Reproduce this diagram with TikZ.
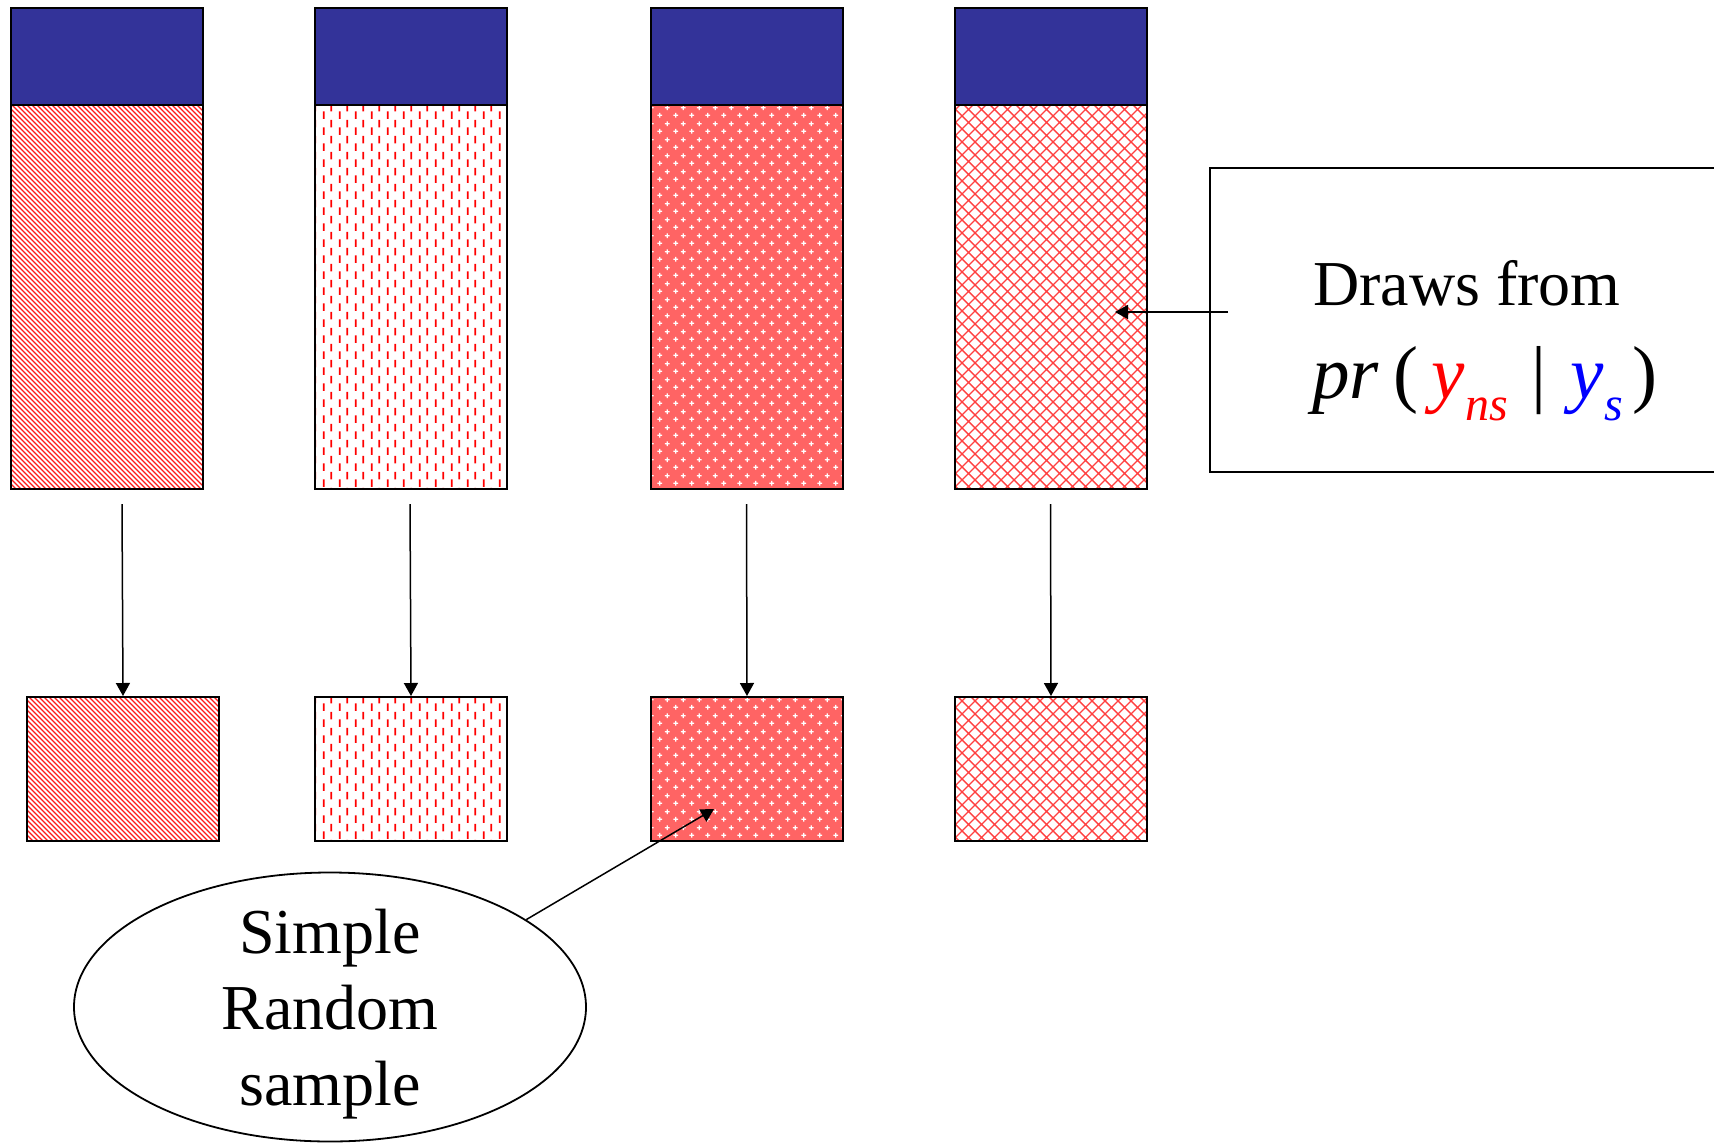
\documentclass[tikz,border=0pt]{standalone}
\usepackage{fontspec}
\setmainfont{Liberation Serif}
\usetikzlibrary{shapes.geometric,patterns,arrows.meta}
\definecolor{hdrblue}{RGB}{51,51,153}
\definecolor{pinkred}{RGB}{255,100,100}

\pgfdeclarepatternformonly{diagnw}{\pgfqpoint{-1pt}{-1pt}}{\pgfqpoint{6pt}{6pt}}{\pgfqpoint{5pt}{5pt}}{%
  \pgfsetlinewidth{1.1pt}%
  \pgfpathmoveto{\pgfqpoint{-0.1pt}{5.1pt}}%
  \pgfpathlineto{\pgfqpoint{5.1pt}{-0.1pt}}%
  \pgfusepath{stroke}}

\pgfdeclarepatternformonly{vdashes}{\pgfqpoint{0pt}{0pt}}{\pgfqpoint{16pt}{16pt}}{\pgfqpoint{16pt}{16pt}}{%
  \pgfsetlinewidth{1.8pt}%
  \pgfpathmoveto{\pgfqpoint{4pt}{0pt}}\pgfpathlineto{\pgfqpoint{4pt}{8pt}}%
  \pgfpathmoveto{\pgfqpoint{12pt}{8pt}}\pgfpathlineto{\pgfqpoint{12pt}{16pt}}%
  \pgfusepath{stroke}}

\pgfdeclarepatternformonly{wcross}{\pgfqpoint{0pt}{0pt}}{\pgfqpoint{16pt}{16pt}}{\pgfqpoint{16pt}{16pt}}{%
  \pgfsetlinewidth{1.3pt}%
  \pgfpathmoveto{\pgfqpoint{1.5pt}{4pt}}\pgfpathlineto{\pgfqpoint{6.5pt}{4pt}}%
  \pgfpathmoveto{\pgfqpoint{4pt}{1.5pt}}\pgfpathlineto{\pgfqpoint{4pt}{6.5pt}}%
  \pgfpathmoveto{\pgfqpoint{9.5pt}{12pt}}\pgfpathlineto{\pgfqpoint{14.5pt}{12pt}}%
  \pgfpathmoveto{\pgfqpoint{12pt}{9.5pt}}\pgfpathlineto{\pgfqpoint{12pt}{14.5pt}}%
  \pgfusepath{stroke}}

\pgfdeclarepatternformonly{xhatch}{\pgfqpoint{-1pt}{-1pt}}{\pgfqpoint{14pt}{14pt}}{\pgfqpoint{13pt}{13pt}}{%
  \pgfsetlinewidth{1.4pt}%
  \pgfpathmoveto{\pgfqpoint{-0.1pt}{-0.1pt}}\pgfpathlineto{\pgfqpoint{13.1pt}{13.1pt}}%
  \pgfpathmoveto{\pgfqpoint{-0.1pt}{13.1pt}}\pgfpathlineto{\pgfqpoint{13.1pt}{-0.1pt}}%
  \pgfusepath{stroke}}

\begin{document}
\begin{tikzpicture}[x=1pt,y=-1pt,
  hdr/.style={draw, line width=2pt, fill=hdrblue, minimum width=192pt, minimum height=97pt, inner sep=0pt, anchor=north west},
  bodybox/.style={draw, line width=2pt, minimum width=192pt, minimum height=384pt, inner sep=0pt, anchor=north west},
  smallbox/.style={draw, line width=2pt, minimum width=192pt, minimum height=144pt, inner sep=0pt, anchor=north west},
  patA/.style={pattern=diagnw, pattern color=red!90},
  patB/.style={pattern=vdashes, pattern color=red},
  patC/.style={preaction={fill=pinkred}, pattern=wcross, pattern color=white},
  patD/.style={pattern=xhatch, pattern color=red!75},
  conn/.style={line width=1.5pt, -{Triangle[length=13pt,width=14pt]}},
  bigtext/.style={font=\fontsize{64}{76}\selectfont}
]
\useasboundingbox (0,0) rectangle (1714,1143);

% top blue headers
\node[hdr] (h1) at (10,7) {};
\node[hdr] (h2) at (314,7) {};
\node[hdr] (h3) at (650,7) {};
\node[hdr] (h4) at (954,7) {};

% population bodies
\node[bodybox, patA] (b1) at (10,104) {};
\node[bodybox, patB] (b2) at (314,104) {};
\node[bodybox, patC] (b3) at (650,104) {};
\node[bodybox, patD] (b4) at (954,104) {};

% samples
\node[smallbox, patA] (s1) at (26,696) {};
\node[smallbox, patB] (s2) at (314,696) {};
\node[smallbox, patC] (s3) at (650,696) {};
\node[smallbox, patD] (s4) at (954,696) {};

% vertical arrows
\coordinate (a1) at (122,504);
\coordinate (a2) at (410,504);
\coordinate (a3) at (746.5,504);
\coordinate (a4) at (1050.5,504);
\draw[conn] (a1) -- (s1.north);
\draw[conn] (a2) -- (s2.north);
\draw[conn] (a3) -- (s3.north);
\draw[conn] (a4) -- (s4.north);

% right callout box
\draw[line width=2pt] (1714,168) -- (1210,168) -- (1210,472) -- (1714,472);
\node[bigtext, anchor=base west, inner sep=0pt] (drawsfrom) at (1313,305) {Draws from};
\node[font=\fontsize{75}{80}\selectfont, anchor=base west, inner sep=0pt] (formula) at (1312,398)
  {\itshape pr\hspace{15pt}\upshape(\hspace{13pt}{\color{red}\itshape y\raisebox{-22pt}{\fontsize{48}{48}\selectfont ns}}\hspace{24pt}|\hspace{24pt}{\color{blue}\itshape y\raisebox{-22pt}{\fontsize{48}{48}\selectfont s}}\hspace{10pt})};
\coordinate (ds) at (1228,312);
\coordinate (dt) at (1115,312);
\draw[conn] (ds) -- (dt);

% ellipse
\node[ellipse, draw, line width=1.8pt, minimum width=512pt, minimum height=269pt, inner sep=0pt] (srs) at (330,1007) {};
\node[bigtext, align=center, inner sep=0pt] (srstext) at (330,1014) {Simple\\Random\\sample};
\coordinate (t3) at (714,809);
\draw[conn] (srs.24) -- (t3);
\end{tikzpicture}
\end{document}
